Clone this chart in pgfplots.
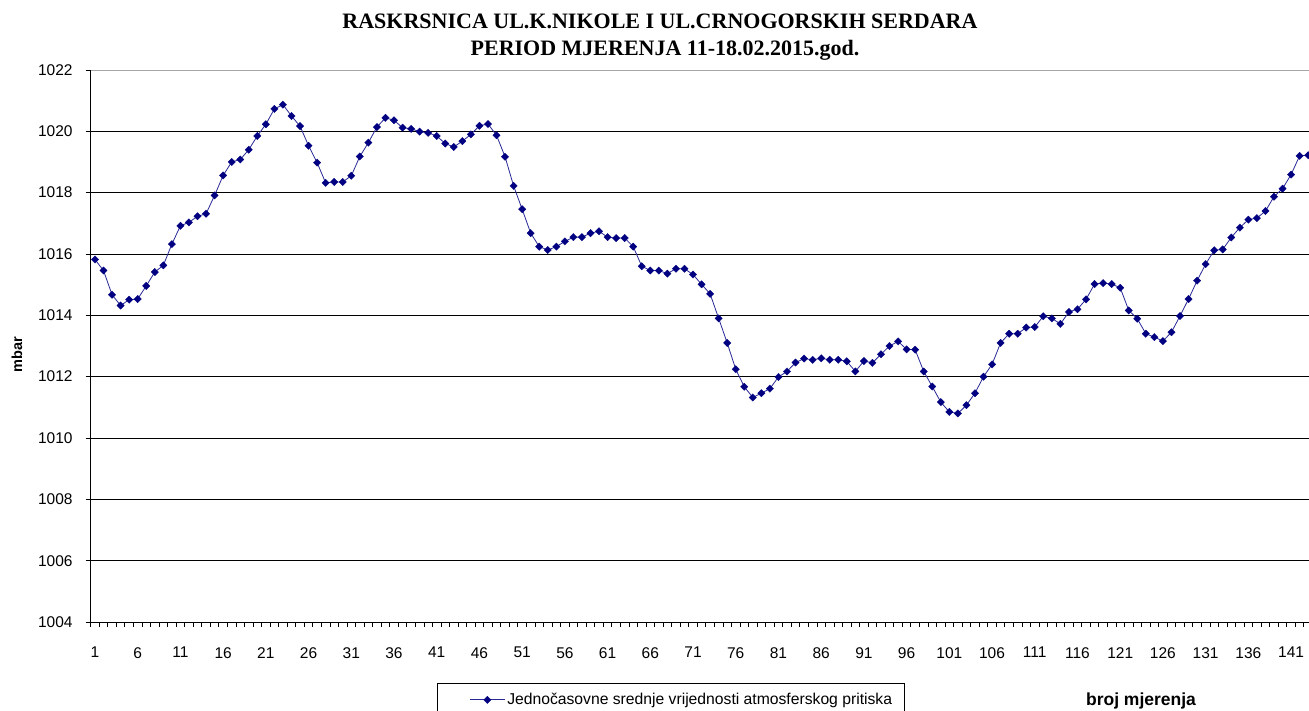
\documentclass[border=0pt]{standalone}
\usepackage{fontspec}
\setmainfont{Liberation Sans}
\newfontfamily\titlefont{Liberation Serif}
\usepackage{pgfplots}
\pgfplotsset{compat=1.18}
\usepackage{pgfplotstable}
\definecolor{navy}{RGB}{0,0,128}
\definecolor{navyline}{RGB}{40,40,150}

\pgfplotstableread{
n p
1 1015.82
2 1015.46
3 1014.67
4 1014.32
5 1014.51
6 1014.53
7 1014.96
8 1015.41
9 1015.63
10 1016.32
11 1016.92
12 1017.03
13 1017.23
14 1017.31
15 1017.91
16 1018.56
17 1019.00
18 1019.08
19 1019.40
20 1019.85
21 1020.23
22 1020.73
23 1020.87
24 1020.50
25 1020.17
26 1019.53
27 1018.98
28 1018.32
29 1018.35
30 1018.35
31 1018.55
32 1019.18
33 1019.63
34 1020.14
35 1020.44
36 1020.36
37 1020.12
38 1020.08
39 1019.99
40 1019.95
41 1019.85
42 1019.60
43 1019.49
44 1019.68
45 1019.90
46 1020.18
47 1020.24
48 1019.87
49 1019.17
50 1018.22
51 1017.46
52 1016.68
53 1016.24
54 1016.13
55 1016.24
56 1016.41
57 1016.55
58 1016.55
59 1016.68
60 1016.74
61 1016.55
62 1016.52
63 1016.52
64 1016.24
65 1015.60
66 1015.46
67 1015.46
68 1015.36
69 1015.52
70 1015.52
71 1015.33
72 1015.01
73 1014.70
74 1013.90
75 1013.10
76 1012.24
77 1011.67
78 1011.32
79 1011.46
80 1011.61
81 1011.99
82 1012.17
83 1012.46
84 1012.59
85 1012.55
86 1012.60
87 1012.55
88 1012.55
89 1012.50
90 1012.17
91 1012.51
92 1012.45
93 1012.73
94 1013.00
95 1013.15
96 1012.89
97 1012.88
98 1012.17
99 1011.68
100 1011.17
101 1010.85
102 1010.80
103 1011.07
104 1011.46
105 1012.00
106 1012.40
107 1013.10
108 1013.40
109 1013.40
110 1013.60
111 1013.62
112 1013.97
113 1013.90
114 1013.72
115 1014.11
116 1014.20
117 1014.52
118 1015.02
119 1015.05
120 1015.02
121 1014.90
122 1014.16
123 1013.89
124 1013.40
125 1013.29
126 1013.16
127 1013.45
128 1013.98
129 1014.53
130 1015.13
131 1015.67
132 1016.12
133 1016.15
134 1016.54
135 1016.86
136 1017.12
137 1017.17
138 1017.40
139 1017.87
140 1018.13
141 1018.59
142 1019.20
143 1019.22
}\datatable

\begin{document}
\begin{tikzpicture}
\useasboundingbox (0pt,0pt) rectangle (1309pt,711pt);
\begin{axis}[
  at={(90.7pt,89pt)}, anchor=south west,
  scale only axis, width=1218.3pt, height=552pt,
  xmin=0.5, xmax=143.1, ymin=1004, ymax=1022,
  axis x line*=bottom, axis y line*=left,
  axis line style={black, line width=0.9pt},
  /pgf/number format/1000 sep={},
  /pgf/number format/assume math mode=true,
  ticklabel style={font=\fontsize{15.5pt}{18pt}\selectfont},
  tick align=outside,
  major tick length=5pt,
  tick style={black, line width=0.8pt},
  ytick={1004,1006,...,1020},
  extra y ticks={1022},
  extra y tick style={major grid style={gray!70, line width=0.9pt}},
  ymajorgrids,
  major grid style={black, line width=0.9pt},
  xtick={0.5,1.5,...,143.5},
  xticklabels={},
  extra x ticks={1,6,...,141},
  extra x tick style={major tick length=0pt, xticklabel style={anchor=north, inner sep=0pt, yshift=-25pt}},
  yticklabel style={anchor=east, inner sep=0pt, xshift=-13pt},
  clip=false,
  legend style={at={(0.2843,-0.1105)}, anchor=north west, draw=black, line width=0.8pt,
    font=\fontsize{15.7pt}{18pt}\selectfont, inner xsep=10pt, inner ysep=8pt},
  legend cell align=left,
  legend image code/.code={\path (0pt,0pt); \draw[mark repeat=2,mark phase=2,#1] plot coordinates {(22pt,0pt) (39.5pt,0pt) (57pt,0pt)};},
]
\addplot[color=navyline, line width=0.8pt, mark=square*, mark size=2.6pt,
  mark options={rotate=45, fill=navy, draw=navy, line width=0.3pt}]
  table[x=n, y=p] {\datatable};
\addlegendentry{Jednočasovne srednje vrijednosti atmosferskog pritiska}
\end{axis}
\node[anchor=base, font={\titlefont\bfseries\fontsize{22pt}{26pt}\selectfont}] at (660pt,682.7pt) {RASKRSNICA UL.K.NIKOLE I UL.CRNOGORSKIH SERDARA};
\node[anchor=base, font={\titlefont\bfseries\fontsize{22pt}{26pt}\selectfont}] at (665pt,655pt) {PERIOD MJERENJA 11-18.02.2015.god.};
\node[rotate=90, font={\bfseries\fontsize{14.5pt}{17pt}\selectfont}] at (17pt,356pt) {mbar};
\node[anchor=base, font={\bfseries\fontsize{17.5pt}{20pt}\selectfont}] at (1141pt,5pt) {broj mjerenja};
\end{tikzpicture}
\end{document}
